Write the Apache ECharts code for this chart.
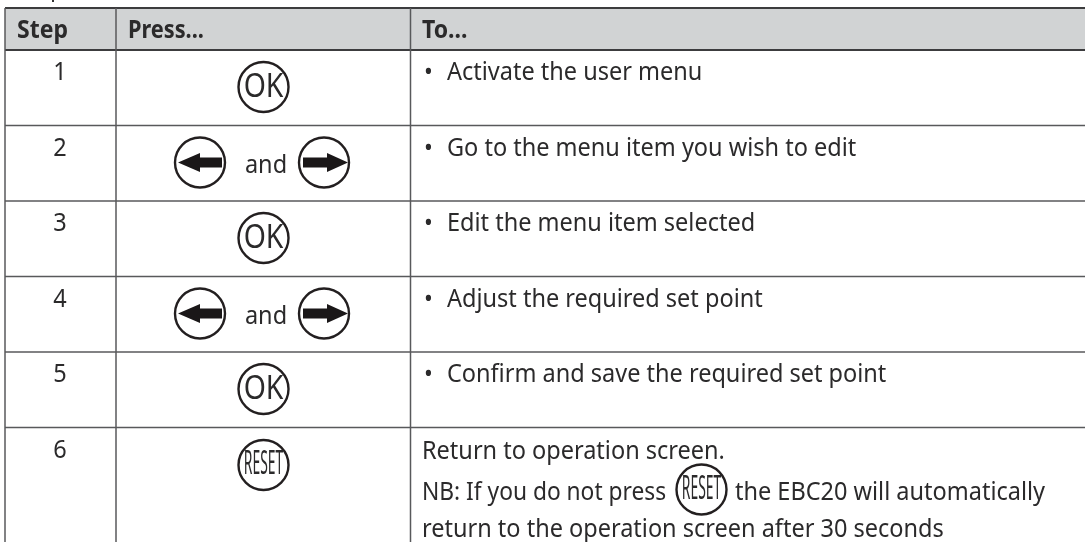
<!DOCTYPE html>
<html>
<head>
<meta charset="utf-8">
<title>Menu steps</title>
<style>
  html, body { margin: 0; padding: 0; background: #fff; }
  #chart { width: 1085px; height: 542px; }
</style>
<script src="https://cdn.jsdelivr.net/npm/echarts@6/dist/echarts.min.js"></script>
</head>
<body>
<div id="chart"></div>
<script>
// table content
var headers = ['Step', 'Press...', 'To...']
var steps = ['1', '2', '3', '4', '5', '6']
var pressKeys = ['ok', 'arrows', 'ok', 'arrows', 'ok', 'reset']
var actions = [
  'Activate the user menu',
  'Go to the menu item you wish to edit',
  'Edit the menu item selected',
  'Adjust the required set point',
  'Confirm and save the required set point',
  ''
]
var noteLines = [
  'Return to operation screen.',
  'NB: If you do not press',
  'the EBC20 will automatically',
  'return to the operation screen after 30 seconds'
]

// layout, px on the x axis and row units on the y axis
var headerTop = 8
var headerBottom = 50
var rowHeight = 75.5
var colLines = [5, 116, 410.5, 1085]
var keyRadius = 25
var ink = '#2b2a2b'
var rule = '#58595b'
var fontFamily = '"Noto Sans", sans-serif'
var textScale = 0.94
var fontSize = 25

function textEl (x, y, str, size, opts) {
  opts = opts || {}
  return {
    type: 'text',
    x: x,
    y: y,
    scaleX: opts.scaleX || textScale,
    style: {
      text: str,
      fill: ink,
      font: (opts.weight || 'normal') + ' ' + size + 'px ' + fontFamily,
      align: opts.align || 'left',
      verticalAlign: 'middle'
    }
  }
}

function ringEl (x, y, r) {
  return {
    type: 'circle',
    shape: { cx: x, cy: y, r: r },
    style: { fill: 'none', stroke: '#231f20', lineWidth: 2.4 }
  }
}

function okKey (x, y) {
  return [ringEl(x, y, keyRadius), textEl(x, y + 1, 'OK', 33, { align: 'center', scaleX: 0.86 })]
}

function resetKey (x, y) {
  return [ringEl(x, y, keyRadius), textEl(x, y, 'RESET', 33, { align: 'center', scaleX: 0.42 })]
}

function arrowKey (x, y, dir) {
  var pts = dir < 0
    ? [[-22, 0], [0, -9.5], [0, -5], [22, -5], [22, 5], [0, 5], [0, 9.5]]
    : [[-21, -5], [3, -5], [3, -9.5], [24, 0], [3, 9.5], [3, 5], [-21, 5]]
  return [
    ringEl(x, y, keyRadius),
    {
      type: 'polygon',
      shape: { points: pts.map(function (p) { return [x + p[0], y + p[1]] }) },
      style: { fill: '#1a1718' }
    }
  ]
}

function hLine (y, color, w) {
  return {
    type: 'line',
    shape: { x1: colLines[0], y1: y, x2: colLines[3], y2: y },
    style: { stroke: color, lineWidth: w }
  }
}

function renderRow (params, api) {
  var r = api.value(0)
  var rowTop = api.coord([0, r])[1]
  var midKey = rowTop + 37
  var midText = rowTop + 23
  var els = []
  if (r > 0) els.push(hLine(rowTop, rule, 1.5))
  els.push(textEl(60, midText, steps[r], fontSize, { align: 'center' }))

  var key = pressKeys[r]
  if (key === 'ok') els = els.concat(okKey(263.5, midKey))
  if (key === 'reset') els = els.concat(resetKey(263.5, rowTop + 37.5))
  if (key === 'arrows') {
    els = els.concat(arrowKey(200, midKey, -1), arrowKey(324, midKey, 1))
    els.push(textEl(266, midKey + 3, 'and', fontSize, { align: 'center' }))
  }

  if (actions[r]) {
    els.push(textEl(424, midText, '•', fontSize))
    els.push(textEl(447, midText, actions[r], fontSize))
  } else {
    els.push(textEl(422, rowTop + 24, noteLines[0], fontSize))
    els.push(textEl(422, rowTop + 65, noteLines[1], fontSize, { scaleX: 0.91 }))
    els = els.concat(resetKey(701.5, rowTop + 62))
    els.push(textEl(735, rowTop + 65, noteLines[2], fontSize))
    els.push(textEl(422, rowTop + 102, noteLines[3], fontSize))
  }
  return { type: 'group', children: els }
}

// header band and the table frame go in as one extra item
function renderFrame (params, api) {
  var y0 = headerTop
  var y1 = headerBottom
  var els = [{
    type: 'rect',
    shape: { x: colLines[0], y: y0, width: colLines[3] - colLines[0], height: y1 - y0 },
    style: { fill: '#d1d3d4' }
  }]
  els.push(hLine(y0, '#3c3c3e', 1.8), hLine(y1, '#3c3c3e', 1.8))
  colLines.slice(0, 3).forEach(function (x) {
    els.push({
      type: 'line',
      shape: { x1: x, y1: y0, x2: x, y2: 542 },
      style: { stroke: rule, lineWidth: 1.5 }
    })
  })
  els.push(textEl(17, 31, headers[0], fontSize, { weight: 'bold', scaleX: 0.92 }))
  els.push(textEl(128, 31, headers[1], fontSize, { weight: 'bold', scaleX: 0.87 }))
  els.push(textEl(422, 31, headers[2], fontSize, { weight: 'bold', scaleX: 0.92 }))
  // tail of the line cut off above the table
  els.push({ type: 'rect', shape: { x: 52, y: 0, width: 2, height: 2 }, style: { fill: '#333' } })
  return { type: 'group', children: els }
}

var chart = echarts.init(document.getElementById('chart'), null, { renderer: 'canvas' })
chart.setOption({
  animation: false,
  backgroundColor: '#fff',
  grid: { left: 0, top: 0, width: 1085, height: 542 },
  xAxis: { type: 'value', min: 0, max: 1085, show: false },
  yAxis: {
    type: 'value',
    inverse: true,
    min: -headerBottom / rowHeight,
    max: (542 - headerBottom) / rowHeight,
    show: false
  },
  series: [
    { type: 'custom', clip: false, data: [[0, 0]], renderItem: renderFrame, silent: true, z: 1 },
    {
      type: 'custom',
      clip: false,
      silent: true,
      z: 2,
      data: steps.map(function (s, i) { return [i] }),
      encode: { y: 0 },
      renderItem: renderRow
    }
  ]
})
</script>
</body>
</html>
